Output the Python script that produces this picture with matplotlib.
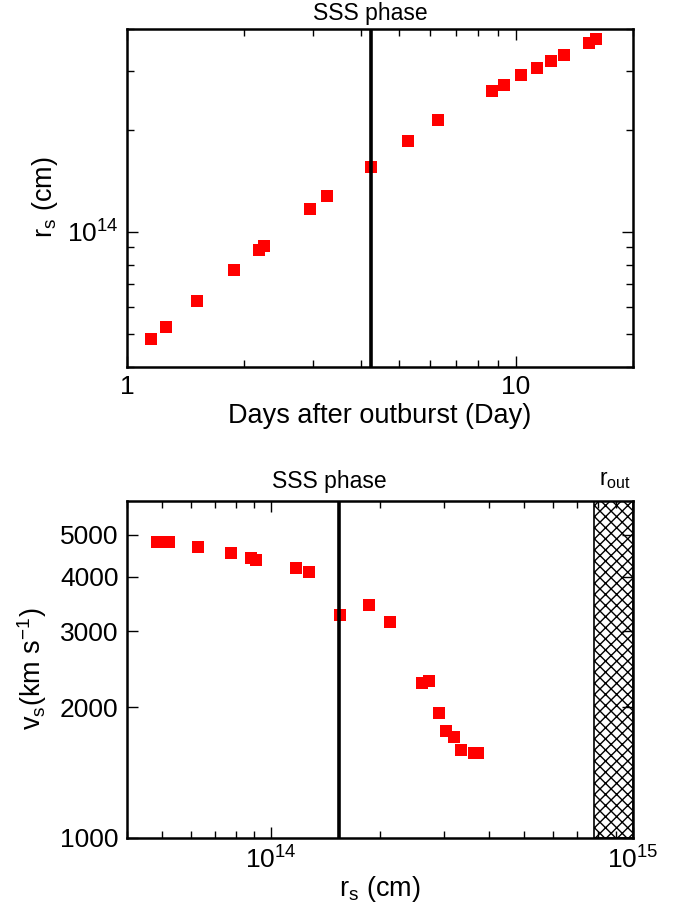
import matplotlib
matplotlib.use("Agg")
import matplotlib.pyplot as plt
from matplotlib.ticker import FixedLocator, LogLocator, NullFormatter, NullLocator

plt.rcParams['font.family'] = ['Liberation Sans', 'DejaVu Sans']
plt.rcParams['mathtext.fontset'] = 'custom'
plt.rcParams['mathtext.rm'] = 'Liberation Sans'
plt.rcParams['mathtext.it'] = 'Liberation Sans:italic'
plt.rcParams['mathtext.default'] = 'regular'
plt.rcParams['hatch.linewidth'] = 1.0

# shock radius vs. days after outburst
days = [1.155, 1.258, 1.515, 1.887, 2.180, 2.254, 2.963, 3.261, 4.24, 5.27,
        6.29, 8.69, 9.32, 10.30, 11.36, 12.34, 13.30, 15.37, 16.06]
radius = [4.83e13, 5.22e13, 6.27e13, 7.73e13, 8.82e13, 9.11e13, 1.172e14, 1.275e14,
          1.555e14, 1.865e14, 2.138e14, 2.61e14, 2.73e14, 2.91e14, 3.05e14, 3.21e14,
          3.34e14, 3.63e14, 3.72e14]
# shock velocity (km/s) at the same radii
velocity = [4806, 4806, 4698, 4536, 4416, 4385, 4190, 4095, 3262, 3444,
            3143, 2279, 2296, 1941, 1768, 1712, 1596, 1573, 1573]

sss_day = 4.23
sss_radius = 1.54e14
r_out = 7.8e14

W, H = 681, 909
fig = plt.figure(figsize=(W / 100, H / 100), dpi=100)


def box(l, t, r, b):
    return [l / W, 1 - b / H, (r - l) / W, (b - t) / H]


def style(ax):
    for s in ax.spines.values():
        s.set_linewidth(1.8)
    ax.tick_params(which='both', direction='in', top=True, right=True,
                   labelsize=19, width=1.0, pad=6)
    ax.tick_params(which='major', length=8)
    ax.tick_params(which='minor', length=5)


# ---- top: r_s vs days ----
ax1 = fig.add_axes(box(127, 28.5, 633, 366.5))
ax1.set_xscale('log')
ax1.set_yscale('log')
ax1.set_xlim(1, 20)
ax1.set_ylim(4e13, 4e14)
ax1.plot(days, radius, 's', color='red', markersize=8.6, markeredgewidth=0)
ax1.axvline(sss_day, color='black', lw=2.6)
ax1.text(sss_day, 4.1e14, 'SSS phase', ha='center', va='bottom', fontsize=16.5)

ax1.xaxis.set_major_locator(FixedLocator([1, 10]))
ax1.set_xticklabels(['1', '10'])
ax1.xaxis.set_minor_locator(LogLocator(subs=range(2, 10)))
ax1.xaxis.set_minor_formatter(NullFormatter())
ax1.yaxis.set_major_locator(FixedLocator([1e14]))
ax1.set_yticklabels([r'$10^{14}$'])
ax1.yaxis.set_minor_locator(LogLocator(subs=range(2, 10)))
ax1.yaxis.set_minor_formatter(NullFormatter())
style(ax1)
ax1.set_xlabel('Days after outburst (Day)', fontsize=19.5, labelpad=3)
ax1.set_ylabel(r'r$_\mathrm{s}$ (cm)', fontsize=19.5, labelpad=5)

# ---- bottom: v_s vs r_s ----
ax2 = fig.add_axes(box(127, 500.5, 633, 838))
ax2.set_xscale('log')
ax2.set_yscale('log')
ax2.set_xlim(4e13, 1e15)
ax2.set_ylim(1000, 6000)
ax2.axvspan(r_out, 1e15, facecolor='white', edgecolor='black', hatch='xxx', lw=1.2)
ax2.plot(radius, velocity, 's', color='red', markersize=8.6, markeredgewidth=0)
ax2.axvline(sss_radius, color='black', lw=2.6)
ax2.text(1.45e14, 6250, 'SSS phase', ha='center', va='bottom', fontsize=16.5)
ax2.text(8.9e14, 6300, r'r$_\mathrm{out}$', ha='center', va='bottom', fontsize=16.5)

ax2.xaxis.set_major_locator(FixedLocator([1e14, 1e15]))
ax2.set_xticklabels([r'$10^{14}$', r'$10^{15}$'])
ax2.xaxis.set_minor_locator(LogLocator(subs=range(2, 10)))
ax2.xaxis.set_minor_formatter(NullFormatter())
ax2.yaxis.set_major_locator(FixedLocator([1000, 2000, 3000, 4000, 5000]))
ax2.set_yticklabels(['1000', '2000', '3000', '4000', '5000'])
ax2.yaxis.set_minor_locator(NullLocator())
style(ax2)
ax2.set_xlabel(r'r$_\mathrm{s}$ (cm)', fontsize=19.5, labelpad=0)
ax2.set_ylabel(r'v$_\mathrm{s}$(km s$^{-1}$)', fontsize=19.5, labelpad=8)

fig.savefig('out.png', dpi=100)
